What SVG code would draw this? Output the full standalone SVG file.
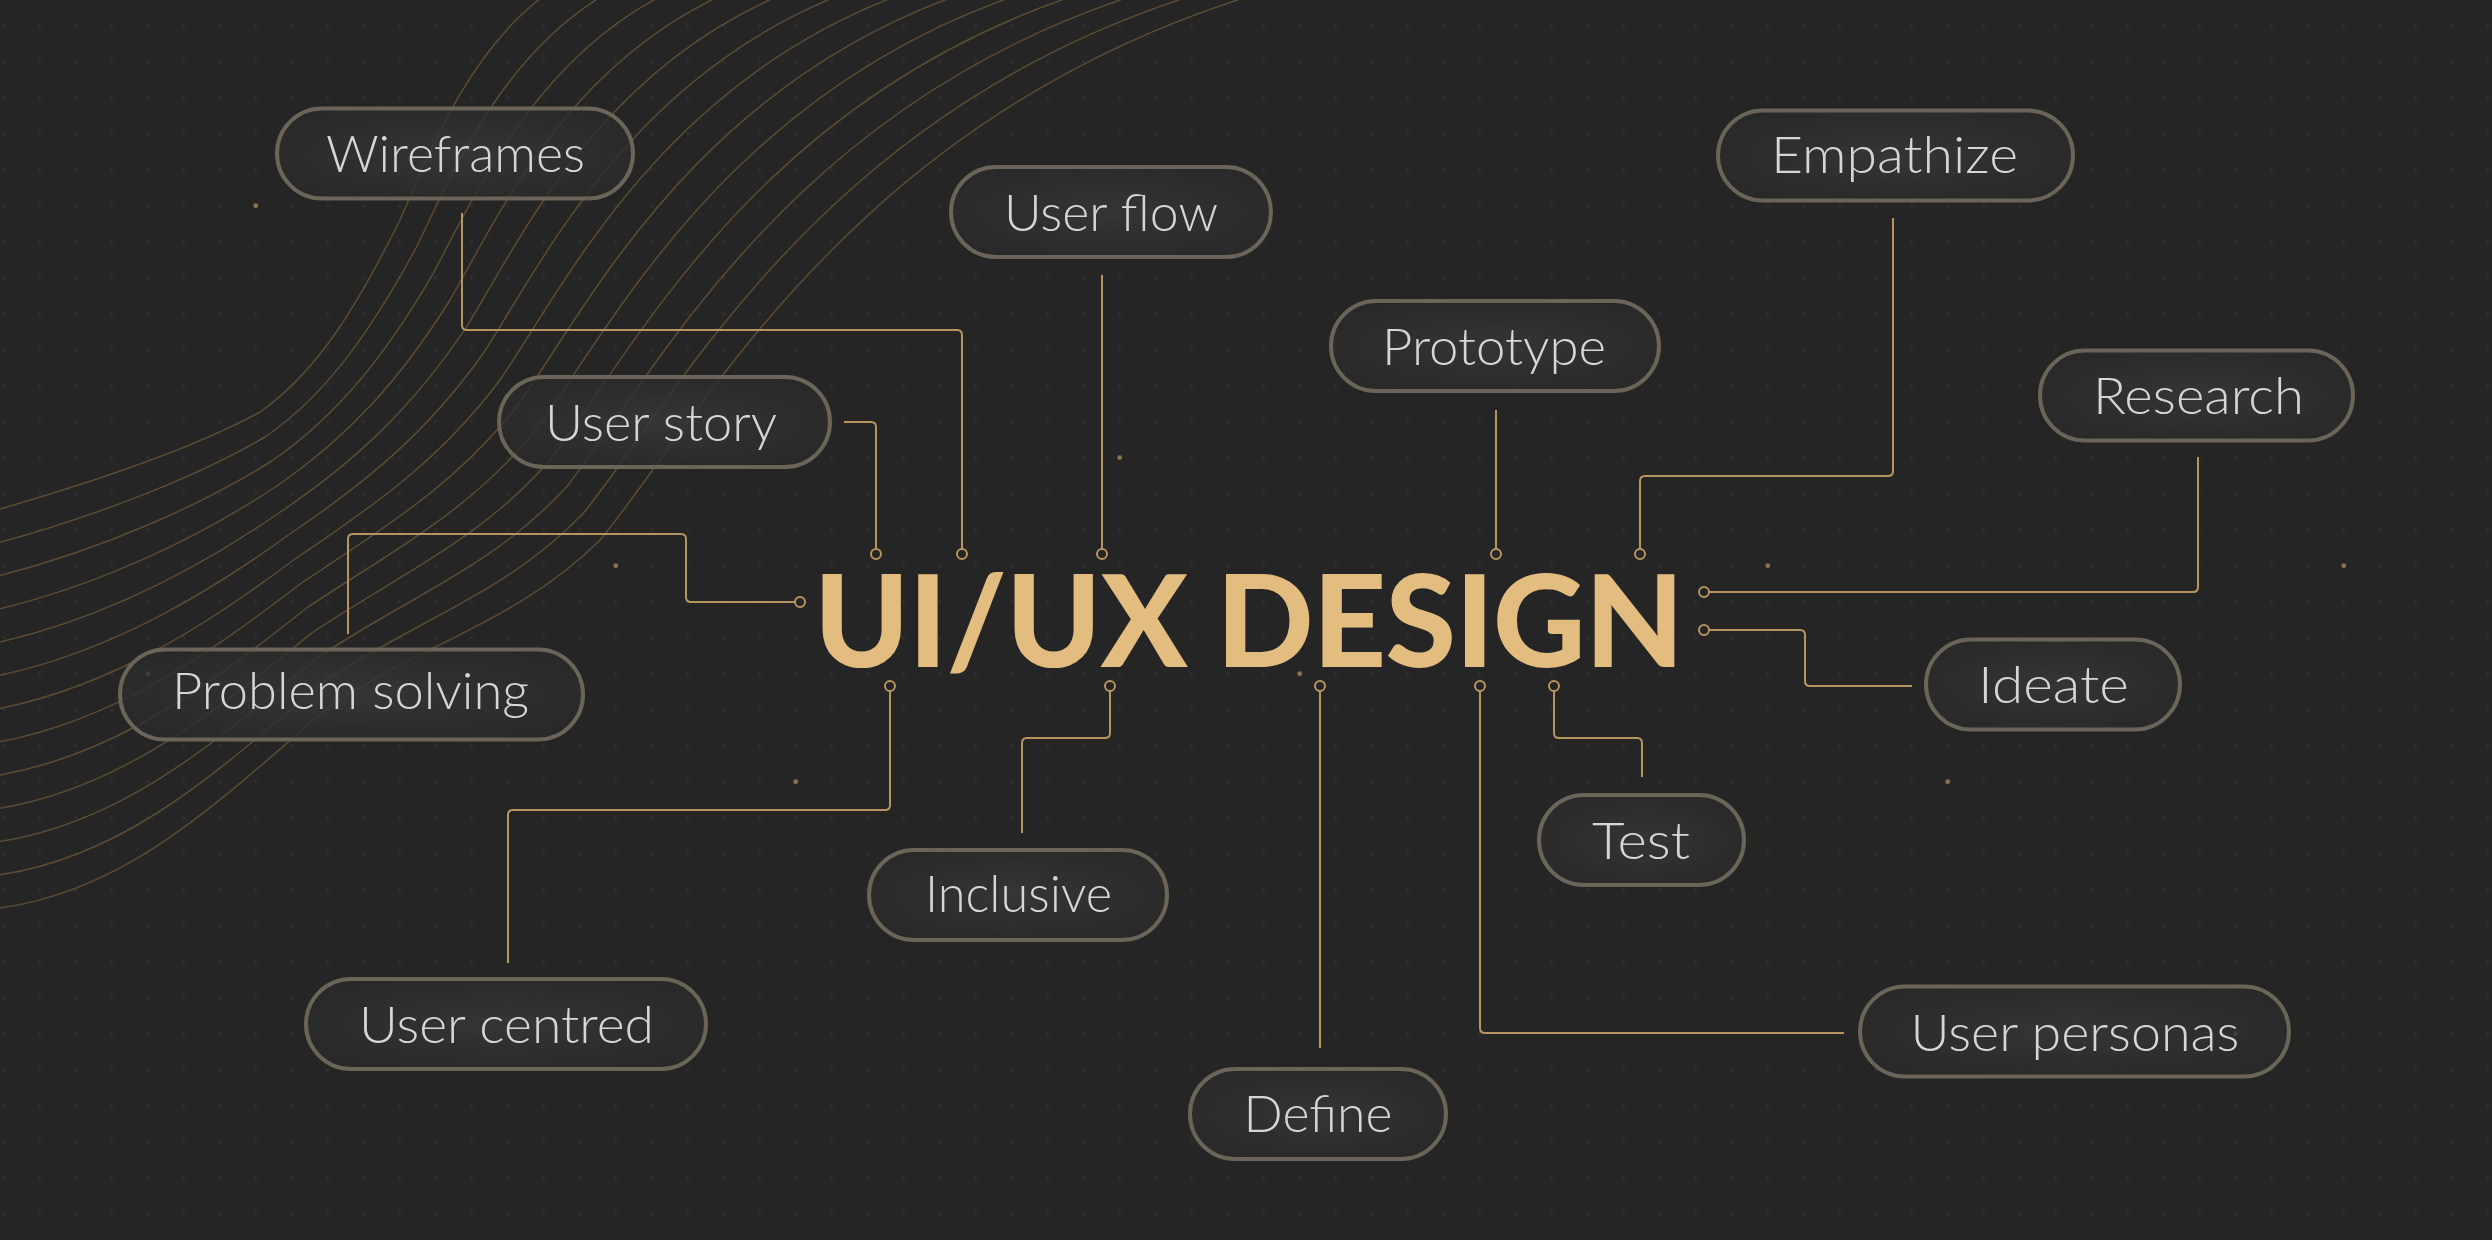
<svg xmlns="http://www.w3.org/2000/svg" width="2492" height="1240" viewBox="0 0 2492 1240">
<defs>
<pattern id="grid" x="-14.3" y="7.7" width="36" height="36" patternUnits="userSpaceOnUse">
<circle cx="18" cy="18" r="1.6" fill="#303030"/>
</pattern>
<radialGradient id="pillfill" cx="0.5" cy="0.5" r="0.6">
<stop offset="0" stop-color="#383838" stop-opacity="0.85"/>
<stop offset="1" stop-color="#2a2a2a" stop-opacity="0.75"/>
</radialGradient>
<style>
.pill{fill:url(#pillfill);stroke:#6b6458;stroke-width:4}
.lbl{font-family:Lato,"Liberation Sans",sans-serif;font-weight:300;font-size:51px;fill:#d6d6d6;text-anchor:middle}
.con{fill:none;stroke:#b8955f;stroke-width:2}
.dot{fill:#252525;stroke:#b8955f;stroke-width:2}
.wave{fill:none;stroke:#6a5538;stroke-width:1.5;opacity:0.8}
.gd{fill:#8a7350}
.title{font-family:Lato,"Liberation Sans",sans-serif;font-weight:900;font-size:128px;fill:#e3bd80}
</style>
</defs>
<rect width="2492" height="1240" fill="#252525"/>
<rect width="2492" height="1240" fill="url(#grid)"/>
<g id="waves">
<path class="wave" d="M0 509 C100 480 200 445 260 412 C320 370 360 300 400 220 C430 150 470 50 545 -5"/>
<path class="wave" d="M0 542.3 C102.5 514.2 201.7 474.6 265.8 436.5 C329.2 392.5 373.3 326.7 416.7 246.7 C452.5 172.5 501.7 55.8 604 -5"/>
<path class="wave" d="M0 575.5 C105 548.3 203.3 504.2 271.7 461 C338.3 415 386.7 353.3 433.3 273.3 C475 195 533.3 61.7 663 -5"/>
<path class="wave" d="M0 608.8 C107.5 582.5 205 533.8 277.5 485.5 C347.5 437.5 400 380 450 300 C497.5 217.5 565 67.5 722 -5"/>
<path class="wave" d="M0 642 C110 616.7 206.7 563.3 283.3 510 C356.7 460 413.3 406.7 466.7 326.7 C520 240 596.7 73.3 781 -5"/>
<path class="wave" d="M0 675.3 C112.5 650.8 208.3 592.9 289.2 534.5 C365.8 482.5 426.7 433.3 483.3 353.3 C542.5 262.5 628.3 79.2 840 -5"/>
<path class="wave" d="M0 708.5 C115 685 210 622.5 295 559 C375 505 440 460 500 380 C565 285 660 85 899 -5"/>
<path class="wave" d="M0 741.8 C117.5 719.2 211.7 652.1 300.8 583.5 C384.2 527.5 453.3 486.7 516.7 406.7 C587.5 307.5 691.7 90.8 958 -5"/>
<path class="wave" d="M0 775 C120 753.3 213.3 681.7 306.7 608 C393.3 550 466.7 513.3 533.3 433.3 C610 330 723.3 96.7 1017 -5"/>
<path class="wave" d="M0 808.3 C122.5 787.5 215 711.3 312.5 632.5 C402.5 572.5 480 540 550 460 C632.5 352.5 755 102.5 1076 -5"/>
<path class="wave" d="M0 841.5 C125 821.7 216.7 740.8 318.3 657 C411.7 595 493.3 566.7 566.7 486.7 C655 375 786.7 108.3 1135 -5"/>
<path class="wave" d="M0 874.8 C127.5 855.8 218.3 770.4 324.2 681.5 C420.8 617.5 506.7 593.3 583.3 513.3 C677.5 397.5 818.3 114.2 1194 -5"/>
<path class="wave" d="M0 908 C130 890 220 800 330 706 C430 640 520 620 600 540 C700 420 850 120 1253 -5"/>
</g>
<g id="golddots">
<circle class="gd" cx="255.7" cy="205.7" r="2.4"/>
<circle class="gd" cx="615.7" cy="565.7" r="2.4"/>
<circle class="gd" cx="1119.7" cy="457.7" r="2.4"/>
<circle class="gd" cx="795.7" cy="781.7" r="2.4"/>
<circle class="gd" cx="1299.7" cy="673.7" r="2.4"/>
<circle class="gd" cx="1767.7" cy="565.7" r="2.4"/>
<circle class="gd" cx="1947.7" cy="781.7" r="2.4"/>
<circle class="gd" cx="2343.7" cy="565.7" r="2.4"/>
<circle class="gd" cx="147.7" cy="673.7" r="2.4"/>
<circle class="gd" cx="2235.7" cy="1033.7" r="2.4"/>
</g>
<g id="connectors">
<path class="con" d="M462 213 V325 Q462 330 467 330 H957 Q962 330 962 335 V549"/>
<path class="con" d="M844 422 H871 Q876 422 876 427 V549"/>
<path class="con" d="M1102 275 V549"/>
<path class="con" d="M348 634 V539 Q348 534 353 534 H681 Q686 534 686 539 V597 Q686 602 691 602 H795"/>
<path class="con" d="M1496 410 V549"/>
<path class="con" d="M1893 218 V471 Q1893 476 1888 476 H1645 Q1640 476 1640 481 V549"/>
<path class="con" d="M1709 592 H2193 Q2198 592 2198 587 V457"/>
<path class="con" d="M1709 630 H1800 Q1805 630 1805 635 V681 Q1805 686 1810 686 H1912"/>
<path class="con" d="M890 691 V805 Q890 810 885 810 H513 Q508 810 508 815 V963"/>
<path class="con" d="M1110 691 V733 Q1110 738 1105 738 H1027 Q1022 738 1022 743 V833"/>
<path class="con" d="M1320 691 V1048"/>
<path class="con" d="M1480 691 V1028 Q1480 1033 1485 1033 H1844"/>
<path class="con" d="M1554 691 V733 Q1554 738 1559 738 H1637 Q1642 738 1642 743 V777"/>
<circle class="dot" cx="876" cy="554" r="5"/>
<circle class="dot" cx="962" cy="554" r="5"/>
<circle class="dot" cx="1102" cy="554" r="5"/>
<circle class="dot" cx="1496" cy="554" r="5"/>
<circle class="dot" cx="1640" cy="554" r="5"/>
<circle class="dot" cx="800" cy="602" r="5"/>
<circle class="dot" cx="1704" cy="592" r="5"/>
<circle class="dot" cx="1704" cy="630" r="5"/>
<circle class="dot" cx="890" cy="686" r="5"/>
<circle class="dot" cx="1110" cy="686" r="5"/>
<circle class="dot" cx="1320" cy="686" r="5"/>
<circle class="dot" cx="1480" cy="686" r="5"/>
<circle class="dot" cx="1554" cy="686" r="5"/>
</g>
<g id="title">
<text class="title" x="814" y="667" textLength="870" lengthAdjust="spacing">UI/UX DESIGN</text>
</g>
<g id="n-wireframes"><rect class="pill" x="277" y="108.5" width="356" height="90" rx="45"/><text class="lbl" x="455.5" y="172" textLength="259" lengthAdjust="spacingAndGlyphs">Wireframes</text></g>
<g id="n-userflow"><rect class="pill" x="951" y="167" width="320" height="90" rx="45"/><text class="lbl" x="1111" y="230.5" textLength="214" lengthAdjust="spacingAndGlyphs">User flow</text></g>
<g id="n-empathize"><rect class="pill" x="1718" y="110.5" width="355" height="90" rx="45"/><text class="lbl" x="1894.5" y="173" textLength="247" lengthAdjust="spacingAndGlyphs">Empathize</text></g>
<g id="n-prototype"><rect class="pill" x="1331" y="301" width="328" height="90" rx="45"/><text class="lbl" x="1494" y="364.5" textLength="224" lengthAdjust="spacingAndGlyphs">Prototype</text></g>
<g id="n-research"><rect class="pill" x="2040" y="350.5" width="313" height="90" rx="45"/><text class="lbl" x="2198.5" y="414" textLength="211" lengthAdjust="spacingAndGlyphs">Research</text></g>
<g id="n-userstory"><rect class="pill" x="499" y="377" width="331" height="90" rx="45"/><text class="lbl" x="661" y="440.5" textLength="232" lengthAdjust="spacingAndGlyphs">User story</text></g>
<g id="n-problemsolving"><rect class="pill" x="120" y="649.5" width="463" height="90" rx="45"/><text class="lbl" x="350.5" y="708.5" textLength="357" lengthAdjust="spacingAndGlyphs">Problem solving</text></g>
<g id="n-ideate"><rect class="pill" x="1926" y="639.5" width="254" height="90" rx="45"/><text class="lbl" x="2053.5" y="703" textLength="151" lengthAdjust="spacingAndGlyphs">Ideate</text></g>
<g id="n-test"><rect class="pill" x="1539" y="795" width="205" height="90" rx="45"/><text class="lbl" x="1641" y="858.5" textLength="98" lengthAdjust="spacingAndGlyphs">Test</text></g>
<g id="n-inclusive"><rect class="pill" x="869" y="850" width="298" height="90" rx="45"/><text class="lbl" x="1018.5" y="912" textLength="187" lengthAdjust="spacingAndGlyphs">Inclusive</text></g>
<g id="n-usercentred"><rect class="pill" x="306" y="979" width="400" height="90" rx="45"/><text class="lbl" x="506.5" y="1043" textLength="295" lengthAdjust="spacingAndGlyphs">User centred</text></g>
<g id="n-userpersonas"><rect class="pill" x="1860" y="986.5" width="429" height="90" rx="45"/><text class="lbl" x="2075" y="1051" textLength="329" lengthAdjust="spacingAndGlyphs">User personas</text></g>
<g id="n-define"><rect class="pill" x="1190" y="1069" width="256" height="90" rx="45"/><text class="lbl" x="1318" y="1132" textLength="149" lengthAdjust="spacingAndGlyphs">Define</text></g>
</svg>
